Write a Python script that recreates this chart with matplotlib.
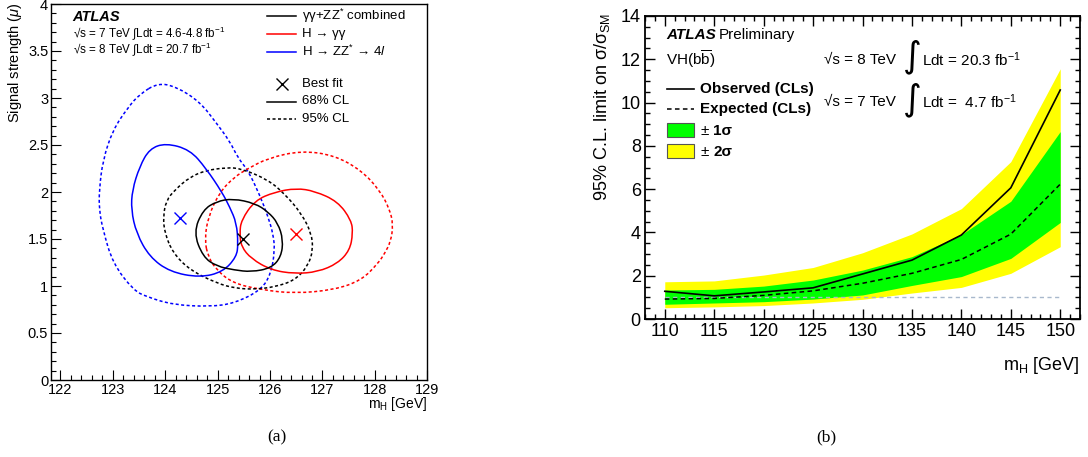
import numpy as np
import matplotlib
matplotlib.use("Agg")
import matplotlib.pyplot as plt
from matplotlib.path import Path
from matplotlib.patches import PathPatch, Rectangle
from matplotlib.lines import Line2D
from matplotlib.ticker import MultipleLocator, FuncFormatter

plt.rcParams['font.family'] = ['Liberation Sans', 'DejaVu Sans']
plt.rcParams['mathtext.fontset'] = 'custom'
plt.rcParams['mathtext.rm'] = 'Liberation Sans'
plt.rcParams['mathtext.it'] = 'Liberation Sans:italic'
plt.rcParams['mathtext.bf'] = 'Liberation Sans:bold'

# ---- (a) likelihood contours in the (m_H, mu) plane ----
comb68_m = [124.54, 124.72, 124.98, 125.29, 125.71, 125.96, 126.15, 126.25, 126.21, 126.02, 125.64, 125.32, 124.98, 124.72]
comb68_mu = [1.57, 1.81, 1.90, 1.93, 1.88, 1.79, 1.67, 1.49, 1.31, 1.19, 1.15, 1.17, 1.21, 1.31]
comb95_m = [123.99, 123.96, 124.02, 124.18, 124.47, 124.78, 125.17, 125.45, 125.96, 126.28, 126.60, 126.79, 126.82,
            126.72, 126.47, 126.09, 125.71, 125.34, 124.98, 124.47, 124.15]
comb95_mu = [1.56, 1.74, 1.91, 2.02, 2.16, 2.23, 2.26, 2.25, 2.13, 1.98, 1.77, 1.56, 1.38,
             1.21, 1.06, 0.99, 0.965, 0.975, 1.03, 1.17, 1.35]
gg68_m = [125.42, 125.45, 125.71, 126.09, 126.50, 126.85, 127.29, 127.55, 127.58, 127.52, 127.29, 126.91, 126.47, 126.02, 125.64, 125.45]
gg68_mu = [1.56, 1.70, 1.91, 2.00, 2.04, 2.01, 1.90, 1.70, 1.56, 1.38, 1.24, 1.15, 1.13, 1.17, 1.29, 1.42]
gg95_m = [124.75, 124.82, 125.04, 125.32, 125.58, 125.96, 126.60, 127.23, 127.74, 128.09, 128.28, 128.35, 128.30,
          128.19, 128.06, 127.74, 127.23, 126.47, 125.83, 125.29, 124.98, 124.82]
gg95_mu = [1.49, 1.74, 2.00, 2.16, 2.25, 2.36, 2.44, 2.39, 2.23, 2.02, 1.82, 1.65, 1.47,
           1.35, 1.24, 1.06, 0.96, 0.92, 0.96, 1.03, 1.17, 1.31]
zz68_m = [124.01, 124.47, 124.78, 125.08, 125.23, 125.36, 125.39, 125.36, 125.10, 124.66, 124.09, 123.70, 123.45, 123.35, 123.37, 123.51, 123.70]
zz68_mu = [2.52, 2.45, 2.25, 2.00, 1.84, 1.67, 1.45, 1.31, 1.15, 1.09, 1.15, 1.31, 1.56, 1.81, 2.02, 2.27, 2.46]
zz95_m = [123.86, 124.21, 124.66, 124.98, 125.23, 125.39, 125.58, 125.80, 125.96, 126.06, 126.09, 126.02, 125.83,
          125.32, 124.85, 124.15, 123.64, 123.39, 123.00, 122.81, 122.74, 122.74, 122.81, 123.00, 123.29, 123.51]
zz95_mu = [3.16, 3.12, 2.96, 2.73, 2.54, 2.36, 2.23, 1.97, 1.74, 1.55, 1.38, 1.135, 0.957,
           0.816, 0.78, 0.80, 0.886, 0.957, 1.24, 1.60, 1.81, 2.02, 2.34, 2.66, 2.90, 3.04]
best_m = [125.48, 126.50, 124.28]
best_mu = [1.50, 1.55, 1.72]

# ---- (b) VH(bb) limits ----
mass = [110, 115, 120, 125, 130, 135, 140, 145, 150]
observed = [1.28, 1.07, 1.25, 1.44, 2.08, 2.72, 3.88, 6.06, 10.58]
expected = [0.92, 0.95, 1.09, 1.30, 1.65, 2.11, 2.75, 3.92, 6.23]
band1_hi = [1.34, 1.37, 1.52, 1.80, 2.26, 2.88, 3.90, 5.44, 8.66]
band1_lo = [0.68, 0.74, 0.80, 0.92, 1.11, 1.55, 1.96, 2.80, 4.46]
band2_hi = [1.72, 1.76, 2.03, 2.38, 3.06, 3.93, 5.10, 7.27, 11.56]
band2_lo = [0.52, 0.56, 0.62, 0.74, 0.91, 1.20, 1.46, 2.11, 3.34]

W, H = 1088, 457
fig = plt.figure(figsize=(W / 100, H / 100), dpi=100)


def fp(x, y):
    # pixel position -> figure fraction
    return x / W, 1 - y / H


def contour(ax, xs, ys, color, ls):
    pts = np.column_stack([xs, ys])
    mids = (pts + np.roll(pts, -1, axis=0)) / 2
    verts = [mids[-1]]
    codes = [Path.MOVETO]
    for p, m in zip(pts, mids):
        verts += [p, m]
        codes += [Path.CURVE3, Path.CURVE3]
    ax.add_patch(PathPatch(Path(verts, codes), fill=False, edgecolor=color,
                           lw=1.1, ls=ls))


def ftext(x, y, s, **kw):
    fig.text(*fp(x, y), s, **kw)


def fline(x0, x1, y, **kw):
    (a, b), (c, _) = fp(x0, y), fp(x1, y)
    fig.add_artist(Line2D([a, c], [b, b], transform=fig.transFigure, **kw))


# left panel
ax1 = fig.add_axes([51 / W, 1 - 380 / H, 376.3 / W, 376 / H])
ax1.set_xlim(121.82, 129)
ax1.set_ylim(0, 4)
dash = (0, (2, 1.6))
contour(ax1, zz95_m, zz95_mu, '#0000ff', dash)
contour(ax1, gg95_m, gg95_mu, '#ff0000', dash)
contour(ax1, comb95_m, comb95_mu, 'k', dash)
contour(ax1, zz68_m, zz68_mu, '#0000ff', '-')
contour(ax1, gg68_m, gg68_mu, '#ff0000', '-')
contour(ax1, comb68_m, comb68_mu, 'k', '-')
for m, mu, c in zip(best_m, best_mu, ['k', '#ff0000', '#0000ff']):
    ax1.plot(m, mu, marker='x', color=c, ms=8, mew=1.0, ls='none')

ax1.xaxis.set_major_locator(MultipleLocator(1))
ax1.xaxis.set_minor_locator(MultipleLocator(0.2))
ax1.yaxis.set_major_locator(MultipleLocator(0.5))
ax1.yaxis.set_minor_locator(MultipleLocator(0.1))
ax1.yaxis.set_major_formatter(FuncFormatter(lambda v, p: '%g' % v))
ax1.tick_params(which='both', direction='in', labelsize=10.5, width=0.8)
ax1.tick_params(which='major', length=7, pad=2)
ax1.tick_params(which='minor', length=3.5)
for s in ax1.spines.values():
    s.set_linewidth(1.0)

ftext(15, 3, r'Signal strength ($\mu$)', rotation=90, ha='center', va='top', fontsize=10.5)
ftext(427.3, 404, r'm$_{\mathrm{H}}$ [GeV]', ha='right', va='center', fontsize=10)
ftext(72.6, 17, 'ATLAS', fontsize=10.5, weight='bold', style='italic', va='center')
ftext(72.6, 33, '\u221as = 7 TeV \u222bLdt = 4.6-4.8 fb$^{-1}$', fontsize=8.4, va='center')
ftext(72.6, 49.5, '\u221as = 8 TeV \u222bLdt = 20.7 fb$^{-1}$', fontsize=8.4, va='center')

fline(267, 295.5, 16, color='k', lw=1.1)
ftext(302, 16, '\u03b3\u03b3+ZZ$^{*}$ combined', fontsize=9.5, va='center')
fline(267, 295.5, 33.5, color='#ff0000', lw=1.1)
ftext(302, 33.5, 'H \u2192 \u03b3\u03b3', fontsize=9.5, va='center')
fline(267, 295.5, 51.5, color='#0000ff', lw=1.1)
ftext(302, 51.5, 'H \u2192 ZZ$^{*}$ \u2192 4$\\mathit{l}$', fontsize=9.5, va='center')

bx, by = fp(281.5, 84)
fig.add_artist(Line2D([bx], [by], marker='x', color='k', ms=8, mew=1.0, ls='none',
                      transform=fig.transFigure))
ftext(302, 84, 'Best fit', fontsize=9.5, va='center')
fline(267, 295.5, 101.5, color='k', lw=1.1)
ftext(302, 101.5, '68% CL', fontsize=9.5, va='center')
fline(267, 295.5, 118.5, color='k', lw=1.1, ls=dash)
ftext(302, 118.5, '95% CL', fontsize=9.5, va='center')

# right panel
ax2 = fig.add_axes([645 / W, 1 - 319 / H, 435 / W, 303 / H])
ax2.set_xlim(108, 152)
ax2.set_ylim(0, 14)
ax2.fill_between(mass, band2_lo, band2_hi, color='#ffff00', lw=0)
ax2.fill_between(mass, band1_lo, band1_hi, color='#00ff00', lw=0)
ax2.plot([mass[0], mass[-1]], [1, 1], color='#a8b8cc', lw=1.0, ls=(0, (3, 2.5)))
ax2.plot(mass, expected, color='k', lw=1.1, ls=(0, (3, 2.2)))
ax2.plot(mass, observed, color='k', lw=1.2)

ax2.xaxis.set_major_locator(MultipleLocator(5))
ax2.xaxis.set_minor_locator(MultipleLocator(1))
ax2.yaxis.set_major_locator(MultipleLocator(2))
ax2.yaxis.set_minor_locator(MultipleLocator(0.5))
ax2.tick_params(which='both', direction='in', top=True, right=True, labelsize=13, width=1.0)
ax2.tick_params(which='major', length=7.5, pad=3)
ax2.tick_params(which='minor', length=3.8)
for s in ax2.spines.values():
    s.set_linewidth(1.3)

ftext(602, 13, '95% C.L. limit on \u03c3/\u03c3$_{\\mathrm{SM}}$', rotation=90,
      ha='center', va='top', fontsize=13)
ftext(1080, 366, r'm$_{\mathrm{H}}$ [GeV]', ha='right', va='center', fontsize=13)

ftext(666, 35, 'ATLAS', fontsize=11, weight='bold', style='italic', va='center')
ftext(718.5, 35, 'Preliminary', fontsize=11, va='center')
ftext(666, 59.5, r'VH(b$\overline{\mathrm{b}}$)', fontsize=11, va='center')
ftext(824, 59.5, '\u221as = 8 TeV', fontsize=11, va='center')
ftext(912, 57, '\u222b', fontsize=26, family='DejaVu Sans', ha='center', va='center')
ftext(922.5, 59.5, r'Ldt = 20.3 fb$^{-1}$', fontsize=11, va='center')
ftext(824, 101.5, '\u221as = 7 TeV', fontsize=11, va='center')
ftext(912, 100, '\u222b', fontsize=26, family='DejaVu Sans', ha='center', va='center')
ftext(922.5, 101.5, r'Ldt =  4.7 fb$^{-1}$', fontsize=11, va='center')

fline(666.7, 694, 88.5, color='k', lw=1.2)
ftext(700.5, 88.5, 'Observed (CLs)', fontsize=11, weight='bold', va='center')
fline(666.7, 694, 109.5, color='k', lw=1.1, ls=(0, (3, 2.2)))
ftext(700.5, 109.5, 'Expected (CLs)', fontsize=11, weight='bold', va='center')
for ytop, col, lab in [(123.3, '#00ff00', '1\u03c3'), (144.0, '#ffff00', '2\u03c3')]:
    x0, y0 = fp(666.7, ytop + 14)
    fig.add_artist(Rectangle((x0, y0), 27.3 / W, 14 / H, transform=fig.transFigure,
                             facecolor=col, edgecolor='#555555', lw=0.8))
    ftext(700.5, ytop + 7.5, '\u00b1', fontsize=11, va='center')
    ftext(713, ytop + 7.5, lab, fontsize=11, weight='bold', va='center')

ftext(277, 437, '(a)', fontsize=12.5, family='Liberation Serif', ha='center', va='center')
ftext(826, 437, '(b)', fontsize=12.5, family='Liberation Serif', ha='center', va='center')

fig.savefig('out.png', dpi=100)
